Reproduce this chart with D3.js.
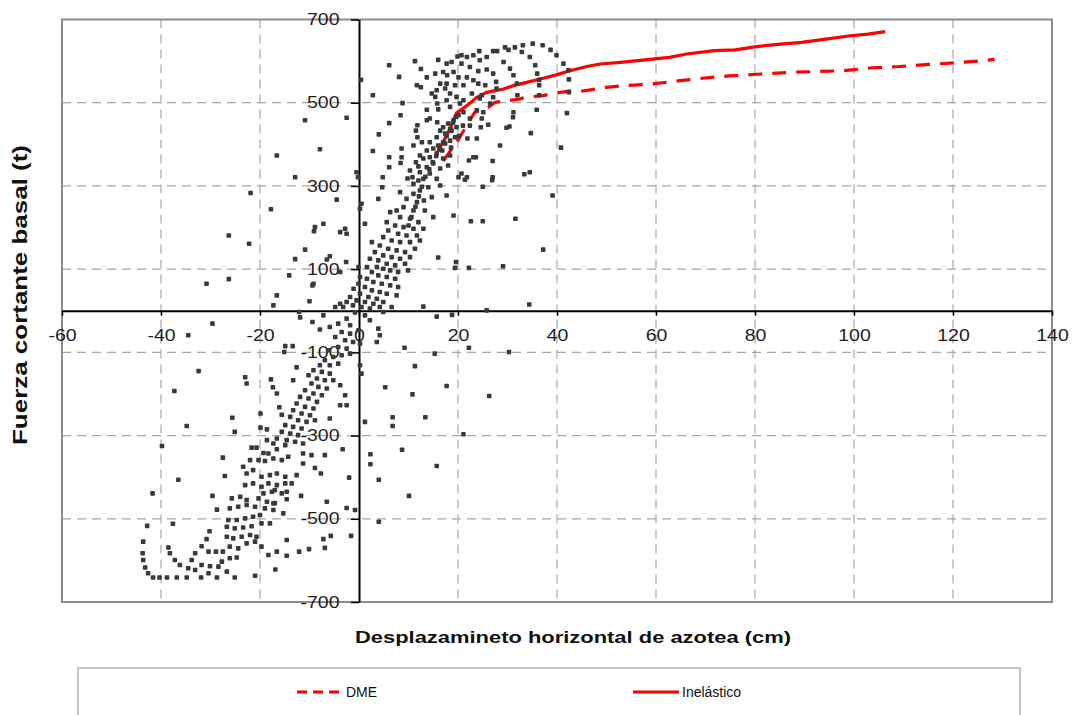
<!DOCTYPE html>
<html><head><meta charset="utf-8">
<script src="https://cdn.jsdelivr.net/npm/d3@7"></script>
<style>
body{margin:0;background:#fff}
text{font-family:"Liberation Sans",Arial,sans-serif}
</style>
</head><body>
<svg id="chart" width="1076" height="715"></svg>
<script>
// ---- data ----
const xTicks = [-60,-40,-20,0,20,40,60,80,100,120,140];
const yTicks = [-700,-500,-300,-100,100,300,500,700];
const xTitle = "Desplazamineto horizontal de azotea (cm)";
const yTitle = "Fuerza cortante basal (t)";
const seriesNames = ["DME","Inelástico"];

const inelastico = [[15.8,380],[17.2,410],[18.5,440],[19.7,475],[21.8,493],[23.8,513],[25.8,525],[29.2,533],[31.2,541],[33.9,549],[36.6,557],[39.9,567],[42.6,577],[46,587],[48.7,593],[52.8,597],[57.8,603],[62.7,609],[66.2,617],[71.8,625],[76,627],[80.3,635],[85.2,641],[89.4,645],[94.3,653],[99.3,661],[102.8,665],[106.3,671]];

const dme = [[17,360],[18.5,385],[20,410],[21.5,440],[22.7,464],[23.4,477],[26.1,489],[27.5,501],[32.5,509],[33.5,513],[37.2,517],[38.6,521],[42.3,528],[44.6,527],[47.9,533],[50,537],[53.5,541],[59.2,545],[64.8,553],[70.4,560],[75.4,565],[81.3,569],[87,573],[92.6,575],[97.9,577],[103.8,584],[109.1,587],[115.1,592],[120.7,596],[126,601],[128.4,604]];

const respuesta = [
[29.5,633],[31.5,633],[33.1,638],[35.1,642],[37.1,638],[38.7,627],[39.9,614],[41.3,594],[42.3,578],[42.4,556],[42.4,525],[42.0,475],[40.8,392],[27.1,624],[27.9,624],[24.3,624],[23.1,614],[25.8,610],[24.4,602],[21.8,610],[20.7,614],[30.2,627],[32.9,622],[34.5,610],[35.6,590],[36.0,570],[36.4,555],[36.4,542],[36.4,518],[35.9,483],[34.7,427],[29.2,598],[30.5,582],[31.2,566],[31.9,546],[32.0,518],[31.2,477],[31.1,465],[30.4,443],[29.8,440],[25.8,580],[27.1,570],[27.7,550],[27.8,534],[27.1,513],[26.5,498],[25.1,477],[26.1,447],[24.6,441],[23.8,414],[21.9,414],[22.4,445],[28.5,397],[23.1,369],[23.6,369],[27.0,360],[27.0,321],[21.8,321],[34.5,333],[20.7,330],[24.1,576],[22.4,586],[20.7,594],[21.8,561],[23.1,554],[24.1,546],[25.5,542],[21.1,542],[22.8,522],[24.8,518],[21.1,506],[23.8,482],[22.4,462],[24.8,462],[24.4,510],
[39.1,277],[37.2,147],[34.4,15],
[6.1,590],[11.3,600],[8.1,562],[2.8,518],[-2.5,464],[0.4,555],[8.8,499],[8.4,470],[6.1,451],[4.0,424],[2.8,384],[6.1,345],[4.8,321],[-0.5,333],[-0.2,321],[11.7,542],[12.5,537],[13.7,561],[16.0,603],[17.7,594],[18.7,598],[19.9,611],[15.4,570],[17.0,574],[17.8,566],[19.1,574],[20.1,561],[16.4,546],[17.7,546],[19.4,542],[15.7,530],[14.7,522],[15.4,514],[17.4,534],[18.4,522],[17.7,506],[19.7,514],[15.8,498],[13.7,483],[16.0,484],[18.4,490],[20.4,498],[14.3,462],[15.8,453],[13.7,458],[11.8,446],[11.5,433],[17.0,441],[18.0,450],[19.1,458],[20.1,470],[21.1,477],[16.4,433],[17.4,426],[18.7,433],[19.7,441],[15.7,417],[14.3,405],[11.8,417],[12.7,405],[11.0,397],[8.6,390],[16.0,397],[17.4,402],[18.4,409],[19.4,417],[15.0,390],[13.7,385],[12.3,373],[13.0,366],[14.3,369],[15.7,378],[17.0,366],[18.4,373],[8.6,369],[8.4,355],[11.5,357],[12.0,347],[13.7,345],[15.0,354],[16.4,342],[18.0,349],[10.3,337],[12.3,333],[14.3,330],[9.8,318],[10.8,321],[20.1,321],[12.5,581],[4.7,297],[6.1,369],
[10.0,205],[10.6,225],[11.4,250],[12.1,275],[12.7,298],[13.4,322],[14.2,340],[14.9,357],[15.6,372],[16.3,388],[17.0,405],[17.7,420],[18.4,437],[19.0,452],[19.6,466],[16.8,385],[18.6,392],[20.2,420],[21.0,445],
[11.0,305],[12.0,313],[13.0,317],[15.7,317],[16.4,301],[14.0,297],[12.3,289],[11.0,281],[8.3,285],[9.6,269],[11.7,261],[13.1,265],[14.7,273],[13.3,241],[15.0,225],[11.0,241],[9.0,249],[7.6,241],[6.3,237],[8.3,225],[10.3,221],[12.0,213],[5.6,213],[7.3,205],[9.0,201],[11.0,197],[13.0,197],[5.9,193],[7.9,185],[9.6,181],[11.7,181],[4.9,177],[6.6,169],[8.3,165],[10.3,165],[12.3,169],[2.6,165],[4.2,157],[5.9,149],[7.6,145],[9.3,141],[11.3,149],[3.2,141],[4.9,133],[6.6,129],[8.3,125],[10.3,129],[2.2,125],[3.9,121],[5.6,113],[7.3,109],[9.3,113],[3.6,105],[4.9,101],[6.3,97],[7.9,93],[9.9,97],[1.6,105],[2.6,93],[3.9,85],[5.6,81],[7.3,77],[0.2,81],[1.6,77],[2.9,69],[4.6,65],[6.3,61],[7.9,57],[-0.1,65],[1.2,57],[2.6,49],[4.2,45],[5.6,41],[7.6,37],[-1.1,53],[0.2,41],[1.9,33],[3.6,29],[-1.8,33],[-0.5,25],[1.2,21],[2.9,17],[4.9,21],[-2.5,21],[-1.2,13],[0.5,9],[2.2,5],[4.2,9],[6.6,9],[-3.2,9],[-4.8,9],[-3.8,17],[13.0,10],[15.7,-14],[18.8,-10],[-7.2,-11],
[-2.8,197],[-2.5,185],[-3.8,189],[-7.2,209],[-8.9,201],[-10.9,147],[-5.9,131],[-6.5,123],[-2.6,117],[0.5,257],[0.2,245],[1.2,209],[-4.5,267],[3.9,269],[-9.2,65],[-3.8,93],[-0.1,105],[17.7,277],[19.1,229],[21.4,315],[16.0,128],[19.6,117],
[19.4,103],[22.2,103],[29.1,107],[31.6,221],[22.6,215],[25.0,215],[33.4,328],[26.9,314],[22.2,361],[25.0,298],[25.8,1],
[9.2,-89],[11.3,-133],[15.3,-103],[22.2,-89],[30.3,-99],[5.3,-184],[10.8,-201],[17.7,-181],[26.3,-205],[6.8,-256],[6.8,-277],[13.4,-256],[21.1,-297],[1.2,-267],[8.7,-334],[2.3,-345],[2.3,-369],[15.7,-373],[4.0,-406],[10.1,-445],[4.0,-507],
[-29.6,-31],[-34.5,-59],[-32.4,-145],[-37.3,-193],[-34.8,-277],[-39.8,-325],[-36.5,-406],[-41.7,-439],[-42.8,-517],[-37.6,-512],[-27.5,-353],[-27.1,-397],[-29.6,-445],[-28.7,-478],[-25.6,-257],[-25.1,-291],
[-16.6,373],[-12.9,321],[-21.9,283],[-17.8,244],[-26.3,181],[-22.2,161],[-12.9,124],[-14.1,85],[-26.3,76],[-30.8,65],[-16.6,37],[-17.3,13],[-10.0,23],[-9.4,61],[-12.1,-3],[-11.9,-16],[-9.4,-27],[-14.9,-85],[-13.4,-85],[-15.1,-99],[-23.0,-160],[-22.7,-175],[-17.8,-165],[-17.4,-184],[-16.6,-199],[-12.6,-136],[-19.9,-247],[-19.9,-281],[-18.6,-285],[-10.9,458],[-7.9,388],[-9.1,191],
[-7.9,-45],[-5.9,-39],[-4.2,-31],[-2.5,-19],[-1.8,-35],[-3.5,-51],[-1.8,-55],[-0.1,-47],[-4.8,-63],[-2.8,-71],[-1.2,-75],[0.2,-79],[-4.2,-87],[-2.5,-91],[-6.2,-95],[-5.2,-111],[-3.5,-107],[-1.8,-103],[-6.9,-119],[-7.9,-131],[-5.9,-131],[-4.2,-127],[-9.2,-143],[-7.5,-147],[-5.9,-151],[-10.2,-155],[-8.5,-163],[-6.9,-167],[-5.2,-167],[-3.8,-179],[-9.6,-175],[-8.2,-183],[-6.5,-187],[-10.9,-191],[-9.2,-199],[-7.5,-203],[-2.8,-203],[-11.9,-207],[-10.2,-211],[-8.5,-219],[-12.6,-223],[-10.9,-231],[-9.2,-235],[-3.8,-227],[-2.5,-227],[-13.3,-239],[-11.6,-247],[-9.9,-251],[-5.9,-259],[-13.9,-255],[-12.3,-263],[-10.6,-267],[-8.9,-263],[-14.9,-275],[-13.3,-279],[-11.6,-283],[-15.6,-291],[-13.9,-295],[-12.3,-299],[-16.6,-307],[-14.6,-311],[-12.9,-315],[-11.3,-319],[-18.6,-311],[-17.3,-319],[-13.3,-167],[-16.1,-232],[-15.6,-250],[0.2,-131],[0.5,-151],[3.6,-75],[4.2,-59],[3.9,-43],[4.9,-3],[1.2,-11],[2.2,-23],[-0.8,-4],
[-43.6,-555],[-43.7,-583],[-43.6,-599],[-43.2,-617],[-42.6,-631],[-41.6,-641],[-40.3,-641],[-38.8,-641],[-36.8,-641],[-34.8,-641],[-31.9,-641],[-30.4,-631],[-28.7,-641],[-26.7,-627],[-25.1,-641],[-21.0,-637],[-38.5,-569],[-38.2,-583],[-37.2,-599],[-36.2,-611],[-34.5,-619],[-33.1,-623],[-33.8,-599],[-33.1,-583],[-31.8,-566],[-30.4,-579],[-28.9,-579],[-27.5,-579],[-30.8,-549],[-30.2,-530],[-31.8,-611],[-30.1,-614],[-28.4,-615],[-27.7,-603],[-26.1,-595],[-24.7,-593],[-18.3,-587],[-16.6,-579],[-16.9,-622],
[-26.4,-503],[-24.7,-503],[-23.0,-499],[-21.4,-495],[-20.0,-491],[-26.7,-519],[-25.1,-523],[-23.4,-521],[-21.7,-518],[-19.7,-511],[-18.0,-511],[-26.7,-543],[-25.4,-547],[-23.7,-543],[-22.0,-539],[-20.7,-543],[-26.1,-567],[-24.4,-571],[-22.7,-559],[-21.0,-555],[-19.7,-567],[-26.1,-475],[-24.4,-471],[-22.7,-467],[-21.0,-471],[-19.0,-475],[-17.3,-479],[-25.7,-451],[-24.0,-447],[-22.7,-455],[-20.3,-451],[-18.6,-459],[-17.0,-462],[-23.0,-419],[-21.4,-415],[-19.7,-423],[-18.3,-415],[-16.6,-419],[-14.9,-415],[-22.7,-391],[-21.4,-383],[-19.7,-399],[-18.0,-395],[-16.6,-391],[-14.9,-399],[-23.4,-375],[-22.0,-359],[-20.3,-359],[-19.0,-361],[-17.3,-355],[-15.6,-359],[-21.7,-329],[-20.7,-329],[-19.3,-342],[-18.3,-343],[-16.6,-333],[-14.9,-323],[-19.3,-439],[-17.6,-435],[-15.6,-439],[-14.6,-435],[-14.6,-551],
[-3.3,-333],[-7.7,-391],[-2.0,-401],[-6.5,-459],[-2.5,-474],[-0.8,-479],[-11.7,-445],[-7.2,-549],[-5.7,-541],[-1.6,-541],[-6.9,-570],[-10.1,-573],[-12.1,-579],[-14.6,-589],[-11.3,-343],[-9.6,-347],[-14.3,-351],[-11.3,-367],[-12.6,-395],[-13.6,-415],[-17.0,-431],[-14.6,-453],[-17.3,-463],[-15.3,-487],[-6.9,-347],[-8.9,-378]
];

// ---- chart ----
const W = 1076, H = 715;
const svg = d3.select("#chart");
svg.append("rect").attr("width",W).attr("height",H).attr("fill","#fff");

const x = d3.scaleLinear().domain([-60,140]).range([62,1052]);
const y = d3.scaleLinear().domain([-700,700]).range([602,19.5]);
const SX = 1.22; // horizontal stretch of the lettering

// grid
const grid = svg.append("g").attr("stroke","#a8a8a8").attr("stroke-width",1.2).attr("stroke-dasharray","9,6");
grid.selectAll("line.v").data(xTicks.filter(d=>d!==-60&&d!==140&&d!==0)).join("line")
  .attr("x1",d=>x(d)).attr("x2",d=>x(d)).attr("y1",y(700)).attr("y2",y(-700));
grid.selectAll("line.h").data(yTicks.filter(d=>Math.abs(d)!==700)).join("line")
  .attr("y1",d=>y(d)).attr("y2",d=>y(d)).attr("x1",x(-60)).attr("x2",x(140));

// plot border
svg.append("rect").attr("x",x(-60)).attr("y",y(700)).attr("width",x(140)-x(-60)).attr("height",y(-700)-y(700))
  .attr("fill","none").attr("stroke","#8c8c8c").attr("stroke-width",2);

// axes crossing at zero
const gx = svg.append("g").attr("transform",`translate(0,${y(0)})`)
  .call(d3.axisBottom(x).tickValues(xTicks).tickSize(5).tickSizeOuter(0).tickPadding(14).tickFormat(d=>String(d)));
gx.select(".domain").attr("stroke","#000").attr("stroke-width",2);
gx.selectAll(".tick line").attr("stroke","#000").attr("stroke-width",1.5);
gx.selectAll(".tick text").attr("font-size",16).attr("fill","#1e1e1e")
  .attr("font-family","'Liberation Sans',Arial,sans-serif").attr("transform",`scale(${SX},1)`);

const gy = svg.append("g").attr("transform",`translate(${x(0)},0)`)
  .call(d3.axisLeft(y).tickValues(yTicks).tickSize(8).tickSizeOuter(0).tickPadding(8).tickFormat(d=>String(d)));
gy.select(".domain").attr("stroke","#000").attr("stroke-width",2);
gy.selectAll(".tick line").attr("stroke","#000").attr("stroke-width",1.5);
gy.selectAll(".tick text").attr("font-size",16).attr("fill","#1e1e1e")
  .attr("font-family","'Liberation Sans',Arial,sans-serif").attr("transform",`scale(${SX},1)`);

// lines
const line = d3.line().x(d=>x(d[0])).y(d=>y(d[1]));
svg.append("path").datum(dme).attr("d",line).attr("fill","none").attr("stroke","#ff0000")
  .attr("stroke-width",3.2).attr("stroke-dasharray","14,10");
svg.append("path").datum(inelastico).attr("d",line).attr("fill","none").attr("stroke","#ff0000")
  .attr("stroke-width",3.2);

// scatter
const s = 4.6;
svg.append("g").selectAll("rect").data(respuesta).join("rect")
  .attr("x",d=>x(d[0])-s/2).attr("y",d=>y(d[1])-s/2).attr("width",s).attr("height",s).attr("rx",0.8)
  .attr("fill","#3a3a3a");

// titles
svg.append("text").attr("x",573).attr("y",643).attr("text-anchor","middle")
  .attr("font-size",17).attr("font-weight","bold").attr("fill","#111")
  .attr("textLength",436).attr("lengthAdjust","spacingAndGlyphs").text(xTitle);
svg.append("text").attr("transform",`translate(27,295) scale(${SX},1) rotate(-90)`).attr("text-anchor","middle")
  .attr("font-size",16).attr("font-weight","bold").attr("fill","#111")
  .attr("textLength",300).attr("lengthAdjust","spacingAndGlyphs").text(yTitle);

// legend
svg.append("rect").attr("x",78).attr("y",668).attr("width",942).attr("height",70)
  .attr("fill","#fff").attr("stroke","#b4b4b4").attr("stroke-width",1.5);
const lg = [{name:seriesNames[0],dash:"10,6",x0:297},{name:seriesNames[1],dash:null,x0:633}];
lg.forEach(e=>{
  svg.append("line").attr("x1",e.x0).attr("x2",e.x0+46).attr("y1",692).attr("y2",692)
    .attr("stroke","#ff0000").attr("stroke-width",3.2).attr("stroke-dasharray",e.dash);
  svg.append("text").attr("x",e.x0+49).attr("y",697).attr("font-size",14).attr("fill","#111").text(e.name);
});
</script>
</body></html>
